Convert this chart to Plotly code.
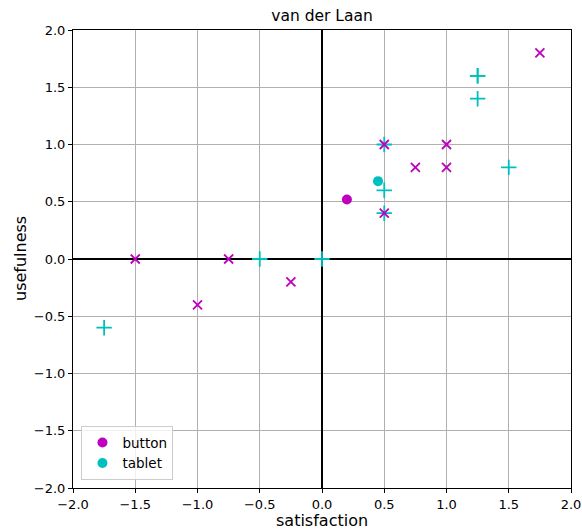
import plotly.graph_objects as go

# Data
button_circle_x = [0.2]
button_circle_y = [0.52]
tablet_circle_x = [0.45]
tablet_circle_y = [0.68]

button_x = [1.75, 0.5, 1.0, 0.75, 1.0, 0.5, -1.5, -0.75, -0.25, -1.0]
button_y = [1.8, 1.0, 1.0, 0.8, 0.8, 0.4, 0.0, 0.0, -0.2, -0.4]

tablet_x = [1.25, 1.25, 1.25, 0.5, 1.5, 0.5, 0.5, -0.5, 0.0, -1.75]
tablet_y = [1.6, 1.6, 1.4, 1.0, 0.8, 0.6, 0.4, 0.0, 0.0, -0.6]

tick_vals = [-2.0, -1.5, -1.0, -0.5, 0.0, 0.5, 1.0, 1.5, 2.0]

MAG = "#bf00bf"
CYA = "#00bfbf"

fig = go.Figure()
fig.add_trace(go.Scatter(x=button_circle_x, y=button_circle_y, mode="markers", name="button",
                         marker=dict(symbol="circle", size=10, color=MAG)))
fig.add_trace(go.Scatter(x=tablet_circle_x, y=tablet_circle_y, mode="markers", name="tablet",
                         marker=dict(symbol="circle", size=10, color=CYA)))
fig.add_trace(go.Scatter(x=tablet_x, y=tablet_y, mode="markers", showlegend=False,
                         marker=dict(symbol="cross-thin", size=11, line=dict(color=CYA, width=1.8))))
fig.add_trace(go.Scatter(x=button_x, y=button_y, mode="markers", showlegend=False,
                         marker=dict(symbol="x-thin", size=9, line=dict(color=MAG, width=1.8))))

axis_common = dict(range=[-2, 2], tickvals=tick_vals, tickformat=".1f",
                   showgrid=True, gridcolor="#b0b0b0", gridwidth=1,
                   zeroline=True, zerolinecolor="black", zerolinewidth=2,
                   showline=True, linecolor="black", linewidth=1, mirror=True,
                   ticks="outside", ticklen=4, tickcolor="black", automargin=False,
                   tickfont=dict(size=13, color="black"))

fig.update_layout(
    width=582, height=529,
    margin=dict(l=73, r=11, t=30, b=41),
    paper_bgcolor="white", plot_bgcolor="white",
    font=dict(family="DejaVu Sans", color="black"),
    title=dict(text="van der Laan", x=0.5, xref="paper", y=1 - 16 / 529, yanchor="middle",
               font=dict(size=15.5)),
    xaxis=dict(**axis_common),
    yaxis=dict(**axis_common),
    legend=dict(x=0.017, y=0.017, xanchor="left", yanchor="bottom",
                bgcolor="rgba(255,255,255,0.8)", bordercolor="#cccccc", borderwidth=1,
                font=dict(size=13.5), tracegroupgap=2),
    annotations=[
        dict(text="satisfaction", xref="paper", yref="paper", x=0.5, y=0,
             xanchor="center", yanchor="middle", yshift=-32, showarrow=False,
             font=dict(size=16)),
        dict(text="usefulness", xref="paper", yref="paper", x=0, y=0.5,
             xanchor="center", yanchor="middle", xshift=-53, textangle=-90,
             showarrow=False, font=dict(size=16)),
    ],
)

fig.write_html("out.html")
